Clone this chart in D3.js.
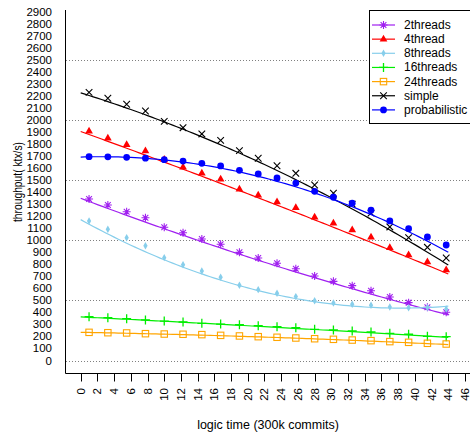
<!DOCTYPE html>
<html>
<head>
<meta charset="utf-8">
<script src="https://cdn.jsdelivr.net/npm/d3@7"></script>
<style>
  html, body { margin: 0; padding: 0; background: #fff; }
  svg { display: block; font-family: "Liberation Sans", Arial, Helvetica, sans-serif; }
</style>
</head>
<body>
<svg id="chart" width="470" height="438"></svg>
<script>
// ---- data ----
const xValues = [1, 3.25, 5.5, 7.75, 10, 12.25, 14.5, 16.75, 19, 21.25, 23.5, 25.75, 28, 30.25, 32.5, 34.75, 37, 39.25, 41.5, 43.75];
const seriesNames = ["2threads", "4thread", "8threads", "16threads", "24threads", "simple", "probabilistic"];
const threads2 = [1342, 1293, 1237, 1187, 1107, 1062, 1010, 966, 899, 852, 808, 763, 702, 658, 622, 580, 528, 481, 442, 401];
const threads4 = [1905, 1847, 1794, 1741, 1670, 1606, 1556, 1506, 1423, 1373, 1318, 1270, 1190, 1140, 1085, 1024, 938, 877, 819, 752];
const threads8 = [1160, 1091, 1021, 954, 855, 796, 744, 692, 625, 589, 559, 531, 497, 478, 467, 459, 445, 439, 440, 428];
const threads16 = [364, 356, 348, 337, 328, 320, 309, 303, 298, 289, 281, 273, 259, 254, 245, 237, 226, 218, 201, 198];
const threads24 = [234, 231, 229, 223, 220, 218, 215, 209, 204, 198, 193, 187, 181, 176, 170, 165, 157, 151, 143, 137];
const simple = [2229, 2180, 2130, 2074, 1988, 1935, 1883, 1830, 1744, 1681, 1619, 1556, 1459, 1390, 1300, 1225, 1110, 1021, 941, 852];
const probabilistic = [1694, 1693, 1689, 1682, 1669, 1658, 1639, 1617, 1581, 1550, 1517, 1475, 1406, 1357, 1307, 1249, 1160, 1096, 1027, 960];
const seriesColors = ["#A020F0", "#FF0000", "#87CEEB", "#00EE00", "#FFA500", "#000000", "#0000FF"];
const seriesMarkers = ["asterisk", "triangle", "diamond", "plus", "square", "cross", "circle"];
const yTicks = d3.range(0, 3000, 100);
const xTicks = d3.range(0, 48, 2);
const gridValues = [0, 500, 1000, 1500, 2000, 2500];
const fitRange = [0, 44];
const fitXOffset = 1; // fitted curves are computed on x - 1 (as in the reference)

const allSeries = [threads2, threads4, threads8, threads16, threads24, simple, probabilistic];

// ---- layout ----
const svg = d3.select("#chart");
const x = d3.scaleLinear().domain([0, 46]).range([80.7, 465]);
const y = d3.scaleLinear().domain([0, 2900]).range([360.5, 11.6]);
const axisLeftX = 65.5, axisBottomY = 373.5;

// grid
svg.append("g").selectAll("line").data(gridValues).join("line")
  .attr("x1", 66).attr("x2", 470)
  .attr("y1", d => Math.round(y(d)) + 0.5).attr("y2", d => Math.round(y(d)) + 0.5)
  .attr("stroke", "#808080").attr("stroke-width", 1).attr("stroke-dasharray", "1,2");

// axes lines
svg.append("line").attr("x1", axisLeftX).attr("x2", axisLeftX).attr("y1", 10).attr("y2", axisBottomY)
  .attr("stroke", "#000").attr("stroke-width", 1);
svg.append("line").attr("x1", axisLeftX).attr("x2", 470).attr("y1", axisBottomY).attr("y2", axisBottomY)
  .attr("stroke", "#000").attr("stroke-width", 1);

// y tick labels
svg.append("g").selectAll("text").data(yTicks).join("text")
  .attr("x", 52).attr("y", d => y(d))
  .attr("text-anchor", "end").attr("dominant-baseline", "central")
  .attr("font-size", 11.5).attr("fill", "#000")
  .text(d => d);

// x ticks
const xt = svg.append("g");
xt.selectAll("line").data(xTicks).join("line")
  .attr("x1", d => Math.round(x(d)) + 0.5).attr("x2", d => Math.round(x(d)) + 0.5)
  .attr("y1", axisBottomY).attr("y2", axisBottomY + 8)
  .attr("stroke", "#000");
xt.selectAll("text").data(xTicks).join("text")
  .attr("transform", d => `translate(${x(d)},388) rotate(-90)`)
  .attr("text-anchor", "end").attr("dominant-baseline", "central")
  .attr("font-size", 11.5).attr("fill", "#000")
  .text(d => d);

// axis titles
svg.append("text").attr("x", 268).attr("y", 425).attr("text-anchor", "middle")
  .attr("dominant-baseline", "central").attr("font-size", 12.5).text("logic time (300k commits)");
svg.append("text").attr("transform", "translate(18,182) rotate(-90)").attr("text-anchor", "middle")
  .attr("dominant-baseline", "central").attr("font-size", 12).attr("textLength", 80)
  .attr("lengthAdjust", "spacingAndGlyphs").text("throughput( ktx/s)");

// quadratic least-squares fit
function quadFit(xs, ys) {
  let s = [0,0,0,0,0], t = [0,0,0];
  xs.forEach((xv, i) => {
    for (let k = 0; k < 5; k++) s[k] += Math.pow(xv, k);
    for (let k = 0; k < 3; k++) t[k] += Math.pow(xv, k) * ys[i];
  });
  const A = [[s[0], s[1], s[2], t[0]], [s[1], s[2], s[3], t[1]], [s[2], s[3], s[4], t[2]]];
  for (let i = 0; i < 3; i++) {
    for (let j = i + 1; j < 3; j++) {
      const f = A[j][i] / A[i][i];
      for (let k = i; k < 4; k++) A[j][k] -= f * A[i][k];
    }
  }
  const c = [0,0,0];
  for (let i = 2; i >= 0; i--) {
    let v = A[i][3];
    for (let k = i + 1; k < 3; k++) v -= A[i][k] * c[k];
    c[i] = v / A[i][i];
  }
  return xv => c[0] + c[1] * xv + c[2] * xv * xv;
}

// markers
function drawMarker(g, type, color, cx, cy) {
  switch (type) {
    case "asterisk": {
      const r = 4;
      const d = `M${cx-r},${cy}L${cx+r},${cy}M${cx},${cy-r}L${cx},${cy+r}` +
        `M${cx-r*0.72},${cy-r*0.72}L${cx+r*0.72},${cy+r*0.72}M${cx-r*0.72},${cy+r*0.72}L${cx+r*0.72},${cy-r*0.72}`;
      g.append("path").attr("d", d).attr("stroke", color).attr("stroke-width", 1.1).attr("fill", "none");
      break;
    }
    case "triangle":
      g.append("path").attr("d", d3.symbol(d3.symbolTriangle, 26)()).attr("transform", `translate(${cx},${cy})`)
        .attr("fill", color);
      break;
    case "diamond":
      g.append("path").attr("d", d3.symbol(d3.symbolDiamond, 16)()).attr("transform", `translate(${cx},${cy})`)
        .attr("fill", color);
      break;
    case "plus": {
      const r = 4.5;
      g.append("path").attr("d", `M${cx-r},${cy}L${cx+r},${cy}M${cx},${cy-r}L${cx},${cy+r}`)
        .attr("stroke", color).attr("stroke-width", 1.3).attr("fill", "none");
      break;
    }
    case "square":
      g.append("rect").attr("x", cx - 3.2).attr("y", cy - 3.2).attr("width", 6.4).attr("height", 6.4)
        .attr("stroke", color).attr("stroke-width", 1.1).attr("fill", "none");
      break;
    case "cross": {
      const r = 3.3;
      g.append("path").attr("d", `M${cx-r},${cy-r}L${cx+r},${cy+r}M${cx-r},${cy+r}L${cx+r},${cy-r}`)
        .attr("stroke", color).attr("stroke-width", 1.1).attr("fill", "none");
      break;
    }
    case "circle":
      g.append("circle").attr("cx", cx).attr("cy", cy).attr("r", 3.4).attr("fill", color);
      break;
  }
}

// series
const line = d3.line().x(d => x(d[0])).y(d => y(d[1]));
allSeries.forEach((vals, si) => {
  const g = svg.append("g");
  const f = quadFit(xValues.map(v => v - fitXOffset), vals);
  const pts = d3.range(fitRange[0], fitRange[1] + 0.01, 0.5).map(xv => [xv, f(xv)]);
  g.append("path").datum(pts).attr("d", line).attr("fill", "none")
    .attr("stroke", seriesColors[si]).attr("stroke-width", 1.2);
  vals.forEach((v, i) => drawMarker(g, seriesMarkers[si], seriesColors[si], x(xValues[i]), y(v)));
});

// legend
const lg = svg.append("g");
lg.append("rect").attr("x", 369.5).attr("y", 10.5).attr("width", 110).attr("height", 113)
  .attr("fill", "#fff").attr("stroke", "#000").attr("stroke-width", 1);
seriesNames.forEach((name, i) => {
  const ly = 25 + i * 14.15;
  lg.append("line").attr("x1", 372).attr("x2", 395).attr("y1", ly).attr("y2", ly)
    .attr("stroke", seriesColors[i]).attr("stroke-width", 1.2);
  drawMarker(lg, seriesMarkers[i], seriesColors[i], 383.5, ly);
  lg.append("text").attr("x", 404).attr("y", ly).attr("dominant-baseline", "central")
    .attr("font-size", 12).attr("fill", "#000").text(name);
});
</script>
</body>
</html>
